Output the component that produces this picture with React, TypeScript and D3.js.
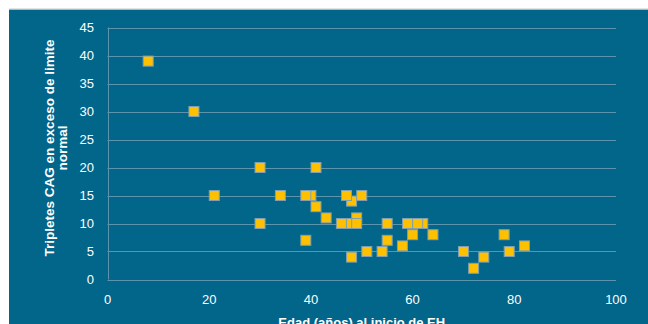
import React, { useEffect, useRef } from "react";
import * as d3 from "d3";

const ages: number[] = [8, 17, 21, 30, 30, 34, 40, 39, 39, 41, 41, 43, 46, 48, 47, 50, 49, 48, 49, 48, 51, 54, 55, 55, 58, 59, 60, 62, 61, 64, 70, 72, 74, 78, 79, 82];
const excess: number[] = [39, 30, 15, 20, 10, 15, 15, 15, 7, 20, 13, 11, 10, 14, 15, 15, 11, 10, 10, 4, 5, 5, 10, 7, 6, 10, 8, 10, 10, 8, 5, 2, 4, 8, 5, 6];
const xTicks: number[] = [0, 20, 40, 60, 80, 100];
const yTicks: number[] = [0, 5, 10, 15, 20, 25, 30, 35, 40, 45];
const xTitle = "Edad (años) al inicio de EH";
const yTitleLines: string[] = ["Tripletes CAG en exceso de limite", "normal"];

const W = 648;
const H = 324;
const BG = "#02658a";

export default function App() {
  const ref = useRef<SVGSVGElement | null>(null);

  useEffect(() => {
    const svg = d3.select(ref.current);
    svg.selectAll("*").remove();
    const font = "Liberation Sans, Arial, sans-serif";

    svg.append("rect").attr("x", 0).attr("y", 0).attr("width", W).attr("height", H).attr("fill", "#ffffff");
    svg.append("rect").attr("x", 9).attr("y", 9.5).attr("width", W).attr("height", H).attr("fill", BG);
    svg.append("line").attr("x1", 9).attr("x2", W).attr("y1", 9).attr("y2", 9).attr("stroke", "#c8c8c8").attr("stroke-width", 1);

    const x = d3.scaleLinear().domain([0, 100]).range([107.5, 616]);
    const y = d3.scaleLinear().domain([0, 45]).range([279.5, 27.5]);

    const grid = "#5c93ad";
    svg.append("g").selectAll("line").data(yTicks).join("line")
      .attr("x1", x(0)).attr("x2", x(100))
      .attr("y1", (d) => Math.round(y(d)) + 0.5).attr("y2", (d) => Math.round(y(d)) + 0.5)
      .attr("stroke", grid).attr("stroke-width", 1);
    svg.append("line").attr("x1", Math.round(x(0)) + 0.5).attr("x2", Math.round(x(0)) + 0.5)
      .attr("y1", y(45)).attr("y2", y(0)).attr("stroke", grid).attr("stroke-width", 1);

    svg.append("g").selectAll("text").data(yTicks).join("text")
      .attr("x", 94).attr("y", (d) => y(d) + 4.5)
      .attr("text-anchor", "end").attr("fill", "#ffffff")
      .attr("font-family", font).attr("font-size", 13)
      .text((d) => String(d));

    svg.append("g").selectAll("text").data(xTicks).join("text")
      .attr("x", (d) => x(d)).attr("y", 304)
      .attr("text-anchor", "middle").attr("fill", "#ffffff")
      .attr("font-family", font).attr("font-size", 13)
      .text((d) => String(d));

    svg.append("text").attr("x", (x(0) + x(100)) / 2).attr("y", 327)
      .attr("text-anchor", "middle").attr("fill", "#ffffff")
      .attr("font-family", font).attr("font-size", 13).attr("font-weight", "bold")
      .text(xTitle);

    const yt = svg.append("text")
      .attr("transform", "translate(0,148) rotate(-90)")
      .attr("text-anchor", "middle").attr("fill", "#ffffff")
      .attr("font-family", font).attr("font-size", 13.5).attr("font-weight", "bold");
    yt.selectAll("tspan").data(yTitleLines).join("tspan")
      .attr("x", 0).attr("y", (_d, i) => (i === 0 ? 54 : 67))
      .text((d) => d);

    const s = 10;
    const pts = ages.map((a, i) => ({ a, v: excess[i] }));
    svg.append("g").selectAll("rect").data(pts).join("rect")
      .attr("x", (d) => x(d.a) - s / 2).attr("y", (d) => y(d.v) - s / 2)
      .attr("width", s).attr("height", s)
      .attr("fill", "#ffc000").attr("stroke", "#7fa0b2").attr("stroke-width", 1);
  }, []);

  return (
    <div style={{ position: "fixed", left: 0, top: 0, width: W, height: H, overflow: "hidden" }}>
      <svg ref={ref} width={W} height={H} style={{ display: "block" }} />
    </div>
  );
}
